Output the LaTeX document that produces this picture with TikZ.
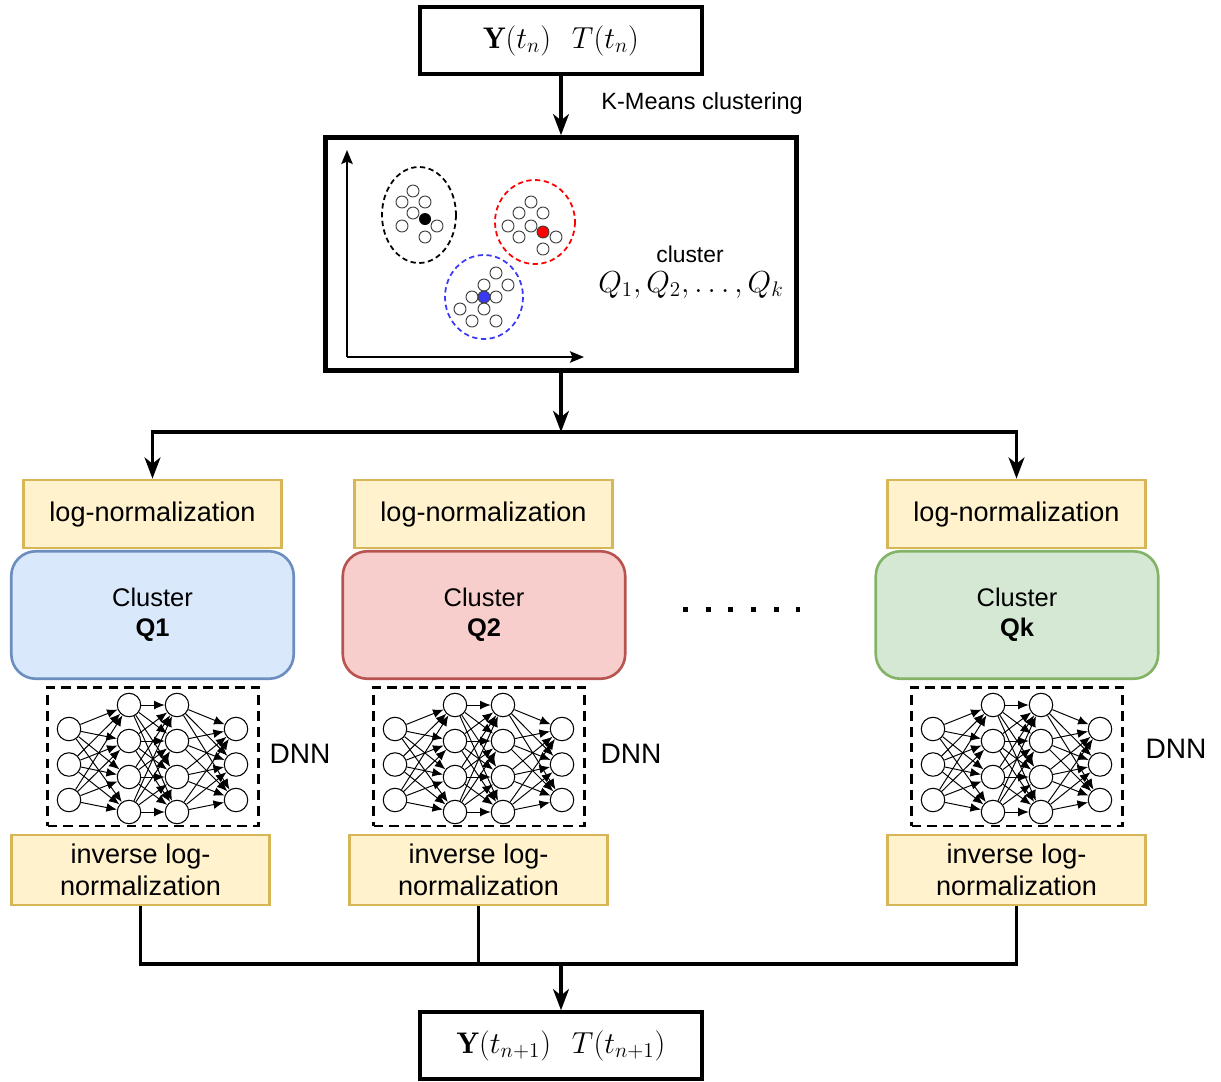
\documentclass[tikz,border=0pt]{standalone}
\usepackage{amsmath}
\usepackage{fontspec}
\setsansfont{Liberation Sans}
\usepackage{xcolor}
\usetikzlibrary{arrows.meta, positioning, shapes.geometric}
\definecolor{logfill}{HTML}{FFF2CC}
\definecolor{logdraw}{HTML}{D6B656}
\definecolor{q1fill}{HTML}{DAE8FC}
\definecolor{q1draw}{HTML}{6C8EBF}
\definecolor{q2fill}{HTML}{F8CECC}
\definecolor{q2draw}{HTML}{B85450}
\definecolor{qkfill}{HTML}{D5E8D4}
\definecolor{qkdraw}{HTML}{82B366}
\definecolor{ptblue}{HTML}{3A3AF5}
\tikzset{
	% caixas de entrada e saida
	iobox/.style={
		draw,
		line width=2pt,
		minimum width=5.64cm,
		minimum height=1.34cm,
		inner sep=0pt,
		font=\fontsize{17}{20}\selectfont
	}, %
	% normalizacao
	lognorm/.style={
		draw=logdraw,
		fill=logfill,
		line width=1.6pt,
		minimum width=5.16cm,
		minimum height=1.36cm,
		inner sep=0pt,
		align=center,
		font=\sffamily\fontsize{15.4}{17}\selectfont
	}, %
	% clusters
	clbox/.style={
		rounded corners=14pt,
		line width=1.5pt,
		minimum width=5.65cm,
		minimum height=2.55cm,
		inner sep=0pt,
		align=center,
		font=\sffamily\fontsize{14.5}{17}\selectfont
	}, %
	dnnbox/.style={
		draw,
		line width=1.7pt,
		dash pattern=on 5.5pt off 3.5pt,
		minimum width=4.22cm,
		minimum height=2.78cm
	}, %
	neuron/.style={
		circle,
		draw,
		line width=0.6pt,
		minimum size=0.47cm,
		inner sep=0pt
	}, %
	syn/.style={-{Latex[length=6pt,width=5pt]}, line width=0.55pt},
	conn/.style={line width=2pt},
	arr/.style={conn, -{Stealth[length=12pt,width=9pt,inset=3.5pt]}},
	lbl/.style={inner sep=0pt, font=\sffamily\fontsize{13.4}{16}\selectfont},
	pt/.style={draw=black!75, line width=0.55pt, fill=white}
}

\begin{document}
\begin{tikzpicture}[x=0.02cm, y=-0.02cm]
			\useasboundingbox (0,0) rectangle (1221,1082);
			
			% entrada
			\node[iobox] (inp) at (561,40.5) {$\mathbf{Y}(t_n)\hspace{0.7em}T(t_n)$};
			
			% k-means
			\node[draw, line width=2.6pt, minimum width=9.42cm, minimum height=4.66cm] (km) at (561,254) {};
			\draw[arr] (inp) -- (km);
			\node[lbl, anchor=west] (kmlbl) at (601,103) {K-Means clustering};
			
			% eixos
			\draw[line width=1.2pt, -{Stealth[length=8pt,width=6.5pt,inset=1.5pt]}] (347,357)--(347,150);
			\draw[line width=1.2pt, -{Stealth[length=8pt,width=6.5pt,inset=1.5pt]}] (347,357)--(584,357);
			
			% grupos
			\draw[dash pattern=on 3pt off 2pt, line width=1pt] (419,215) ellipse [x radius=37, y radius=48];
			\draw[red, dash pattern=on 3pt off 2pt, line width=1pt] (535,222) ellipse [x radius=40, y radius=42];
			\draw[ptblue, dash pattern=on 3pt off 2pt, line width=1pt] (484,297) ellipse [x radius=39, y radius=42];
			\foreach \p in {(413,191),(402,202),(425,202),(413,213),(402,226),(437,226),(425,237)}
				\draw[pt] \p circle [radius=6];
			\fill (425,219) circle [radius=6];
			\foreach \p in {(531,202),(519,213),(543,213),(508,226),(531,226),(519,237),(556,237),(543,249)}
				\draw[pt] \p circle [radius=6];
			\fill[red] (543,232) circle [radius=6];
			\draw[black!75, line width=0.55pt] (543,232) circle [radius=6];
			\foreach \p in {(496,273),(484,285),(508,285),(472,297),(496,297),(460,309),(484,309),(472,321),(496,321)}
				\draw[pt] \p circle [radius=6];
			\fill[ptblue] (484,297) circle [radius=6];
			\draw[black!75, line width=0.55pt] (484,297) circle [radius=6];
			
			\node[lbl, font=\sffamily\fontsize{13}{16}\selectfont] (cltxt) at (690,254) {cluster};
			\node[inner sep=0pt, font=\fontsize{17.3}{20}\selectfont] (qs) at (691,285) {$Q_1, Q_2, \ldots, Q_k$};
			
			% normalizacao
			\node[lognorm] (log1) at (152.5,514) {log-normalization};
			\node[lognorm] (log2) at (483.5,514) {log-normalization};
			\node[lognorm] (log3) at (1016.5,514) {log-normalization};
			
			% divisao
			\coordinate (split) at (561,432);
			\draw[arr] (km) -- (split);
			\draw[arr] (split) -| (log1);
			\draw[arr] (split) -| (log3);
			
			% clusters
			\node[clbox, draw=q1draw, fill=q1fill] (cl1) at (152.5,615) {Cluster\\\textbf{Q1}};
			\node[clbox, draw=q2draw, fill=q2fill] (cl2) at (484,615) {Cluster\\\textbf{Q2}};
			\node[clbox, draw=qkdraw, fill=qkfill] (cl3) at (1017,615) {Cluster\\\textbf{Qk}};
			\draw[line width=0.1cm, dash pattern=on 0.1cm off 0.354cm] (683,609)--(800,609);
			
			% redes
			\foreach \dx/\id/\lx/\ly in {0/1/300/754, 326/2/305/754, 864/3/312/749}{
				\begin{scope}[shift={(\dx,0)}]
					\node[dnnbox] (box\id) at (153,756.5) {};
					\node[inner sep=0pt, font=\sffamily\fontsize{16}{19}\selectfont] (dnn\id) at (\lx,\ly) {DNN};
					\foreach \j/\y in {1/729,2/764.5,3/800}{
						\node[neuron] (a\id-\j) at (69,\y) {};
						\node[neuron] (d\id-\j) at (236,\y) {};
					}
					\foreach \j/\y in {1/705,2/741,3/777,4/812}{
						\node[neuron] (b\id-\j) at (129,\y) {};
						\node[neuron] (c\id-\j) at (177,\y) {};
					}
					\foreach \i in {1,2,3}
						\foreach \j in {1,...,4}{
							\draw[syn] (a\id-\i) -- (b\id-\j);
							\draw[syn] (c\id-\j) -- (d\id-\i);
						}
					\foreach \i in {1,...,4}
						\foreach \j in {1,...,4}
							\draw[syn] (b\id-\i) -- (c\id-\j);
				\end{scope}
			}
			
			% normalizacao inversa
			\node[lognorm, minimum height=1.4cm] (inv1) at (140.5,870) {inverse log-\\[1.5pt]normalization};
			\node[lognorm, minimum height=1.4cm] (inv2) at (478.5,870) {inverse log-\\[1.5pt]normalization};
			\node[lognorm, minimum height=1.4cm] (inv3) at (1016.5,870) {inverse log-\\[1.5pt]normalization};
			
			% saida
			\node[iobox] (out) at (561,1045.5) {$\mathbf{Y}(t_{n+1})\hspace{0.7em}T(t_{n+1})$};
			\coordinate (merge) at (561,964);
			\draw[conn] (inv1) |- (merge);
			\draw[conn] (inv3) |- (merge);
			\draw[line width=1.3pt] (inv2) -- (inv2 |- merge);
			\draw[arr] (merge) -- (out);
		\end{tikzpicture}
\end{document}
